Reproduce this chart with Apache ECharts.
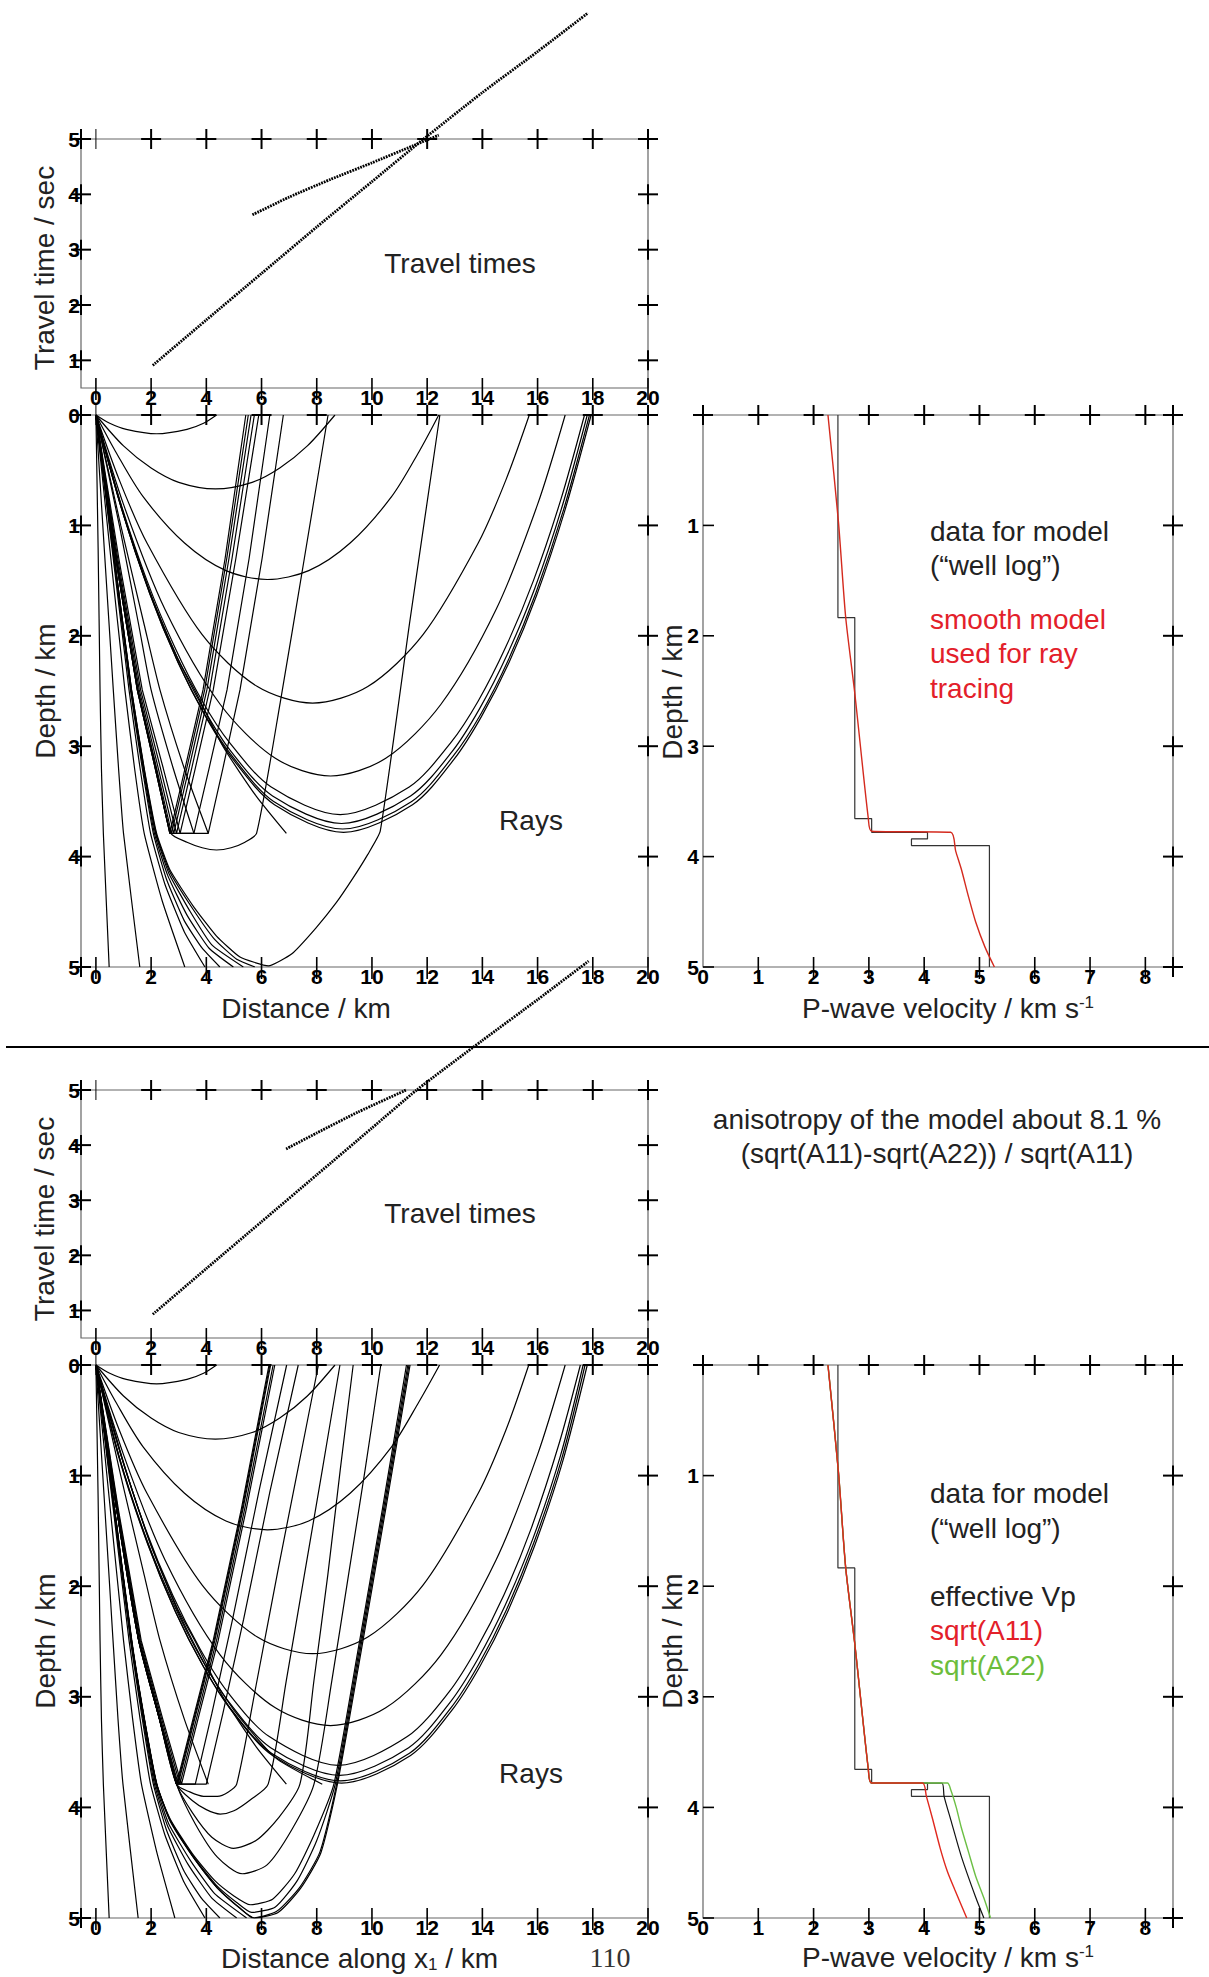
<!DOCTYPE html>
<html><head><meta charset="utf-8">
<script src="https://cdn.jsdelivr.net/npm/echarts@6/dist/echarts.min.js"></script>
<style>html,body{margin:0;padding:0;background:#fff}#c{width:1209px;height:1977px}</style>
</head><body><div id="c"></div>
<script>
// ---------- tick labels ----------
const distTicks = [0,2,4,6,8,10,12,14,16,18,20];
const timeTicks = [1,2,3,4,5];
const depthTicks = [0,1,2,3,4,5];
const velDepthTicks = [1,2,3,4,5];
const velTicks = [0,1,2,3,4,5,6,7,8];
const distRange = [-0.54, 20];
const timeRange = [0.5, 5];
const depthRange = [0, 5];
const velRange = [0, 8.5];

// ---------- travel times (distance km, time s) ----------
const ttDirect1 = [[2.06,0.91],[4,1.73],[6,2.57],[8,3.41],[10,4.23],[11.8,4.97],[14,5.84],[16,6.58],[17.83,7.28]];
const ttRefl1   = [[5.67,3.63],[7,3.95],[8.5,4.27],[10,4.57],[11.5,4.88],[12.42,5.07]];
const ttDirect2 = [[2.06,0.93],[4,1.76],[6,2.61],[8,3.46],[10,4.31],[11.62,5.0],[14,5.9],[16,6.64],[17.85,7.34]];
const ttRefl2   = [[6.89,3.93],[8,4.22],[9.5,4.6],[11.24,5.0]];

// ---------- velocity profiles (velocity km/s, depth km) ----------
const wellLog = [[2.44,0],[2.44,1.835],[2.745,1.835],[2.745,3.656],[3.05,3.656],[3.05,3.78],[4.06,3.78],[4.06,3.84],[3.77,3.84],[3.77,3.9],[5.18,3.9],[5.18,5.0]];
const smoothModel1 = [[2.26,0],[2.45,0.97],[2.58,1.83],[2.745,2.52],[2.99,3.656],[3.05,3.77],[4.48,3.78],[4.57,3.95],[4.67,4.11],[4.8,4.36],[4.93,4.59],[5.1,4.82],[5.27,5.0]];
const sqrtA11 = [[2.26,0],[2.45,0.97],[2.58,1.83],[2.745,2.52],[2.99,3.656],[3.05,3.78],[3.97,3.78],[4.04,3.9],[4.15,4.1],[4.29,4.37],[4.42,4.58],[4.55,4.74],[4.77,5.0]];
const effectiveVp = [[2.26,0],[2.45,0.97],[2.58,1.83],[2.745,2.52],[2.99,3.656],[3.05,3.78],[4.32,3.78],[4.36,3.9],[4.48,4.11],[4.67,4.44],[4.93,4.81],[5.08,5.0]];
const sqrtA22 = [[2.26,0],[2.45,0.97],[2.58,1.83],[2.745,2.52],[2.99,3.656],[3.05,3.78],[4.42,3.78],[4.48,3.84],[4.58,4.0],[4.67,4.18],[4.8,4.4],[4.93,4.62],[5.08,4.82],[5.2,5.0]];

// ---------- rays, isotropic model (distance km, depth km) ----------
const raysA_turning = [
  [[0,0],[0.5,0.075],[1.1,0.13],[2.2,0.17],[3.3,0.13],[3.9,0.075],[4.37,0]],
  [[0,0],[1,0.28],[2,0.48],[3,0.61],[4.33,0.67],[5.66,0.61],[6.66,0.48],[7.66,0.28],[8.66,0]],
  [[0,0],[0.71,0.33],[1.71,0.74],[3.21,1.16],[4.71,1.41],[6.21,1.49],[7.71,1.41],[9.21,1.16],[10.71,0.74],[11.71,0.33],[12.42,0]],
  [[0,0],[0.85,0.59],[1.85,1.16],[3.85,1.99],[5.85,2.46],[7.85,2.61],[9.85,2.46],[11.85,1.99],[13.85,1.16],[14.85,0.59],[15.7,0]],
  [[0,0],[1,0.81],[2.5,1.76],[4.5,2.62],[6.5,3.11],[8.5,3.27],[10.5,3.11],[12.5,2.62],[14.5,1.76],[16,0.81],[17,0]],
  [[0,0],[0.85,0.76],[1.85,1.5],[2.85,2.1],[3.85,2.59],[4.85,2.97],[6.35,3.37],[8.85,3.62],[11.35,3.37],[12.85,2.97],[13.85,2.59],[14.85,2.1],[15.85,1.5],[16.85,0.76],[17.7,0]],
  [[0,0],[0.9,0.82],[1.9,1.57],[2.9,2.17],[3.9,2.66],[4.9,3.05],[6.4,3.45],[8.9,3.7],[11.4,3.45],[12.9,3.05],[13.9,2.66],[14.9,2.17],[15.9,1.57],[16.9,0.82],[17.8,0]],
  [[0,0],[0.94,0.86],[1.94,1.61],[2.94,2.22],[3.94,2.71],[4.94,3.09],[6.44,3.5],[8.94,3.75],[11.44,3.5],[12.94,3.09],[13.94,2.71],[14.94,2.22],[15.94,1.61],[16.94,0.86],[17.88,0]],
  [[0,0],[0.97,0.88],[1.97,1.63],[2.97,2.24],[3.97,2.73],[4.97,3.12],[6.47,3.53],[8.97,3.78],[11.47,3.53],[12.97,3.12],[13.97,2.73],[14.97,2.24],[15.97,1.63],[16.97,0.88],[17.94,0]]
];
const raysA_through = [
  [[0,0],[0.08,1.2],[0.15,2.49],[0.2,3.2],[0.27,3.79],[0.48,5]],
  [[0,0],[0.3,1.2],[0.63,2.49],[0.82,3.2],[1.0,3.79],[1.59,5]],
  [[0,0],[0.5,1.2],[1.05,2.49],[1.4,3.2],[1.75,3.79],[2.4,4.4],[3.22,5]],
  [[0,0],[0.58,1.2],[1.2,2.49],[1.6,3.2],[1.98,3.79],[2.5,4.25],[3.2,4.68],[3.95,5]],
  [[0,0],[0.6,1.2],[1.25,2.49],[1.68,3.2],[2.08,3.79],[2.55,4.2],[3.2,4.58],[3.85,4.83],[4.49,5]],
  [[0,0],[0.61,1.2],[1.27,2.49],[1.71,3.2],[2.12,3.79],[2.6,4.17],[3.3,4.53],[4.1,4.83],[4.98,5]],
  [[0,0],[0.62,1.2],[1.28,2.49],[1.73,3.2],[2.16,3.79],[2.64,4.15],[3.42,4.5],[4.2,4.8],[5.34,5]],
  [[0,0],[0.62,1.2],[1.29,2.49],[1.74,3.2],[2.18,3.79],[2.66,4.13],[3.5,4.47],[4.3,4.75],[5.1,4.93],[5.76,5]],
  [[0,0],[0.62,1.2],[1.29,2.49],[1.75,3.2],[2.2,3.79],[2.68,4.12],[3.53,4.45],[4.37,4.72],[5.22,4.91],[6.25,4.99],[7.1,4.88],[7.96,4.65],[8.7,4.42],[9.3,4.2],[9.85,3.98],[10.3,3.77],[11.36,1.89],[12.46,0]]
];
const raysA_reflected = [
  [[0,0],[0.72,1.3],[1.5,2.49],[2.15,3.2],[2.68,3.79],[3.23,3.2],[3.88,2.49],[4.68,1.3],[5.43,0]],
  [[0,0],[0.74,1.3],[1.53,2.49],[2.2,3.2],[2.74,3.79],[3.29,3.2],[3.94,2.49],[4.74,1.3],[5.52,0]],
  [[0,0],[0.76,1.3],[1.57,2.49],[2.26,3.2],[2.82,3.79],[3.37,3.2],[4.02,2.49],[4.82,1.3],[5.62,0]],
  [[0,0],[0.79,1.3],[1.62,2.49],[2.34,3.2],[2.92,3.79],[3.47,3.2],[4.12,2.49],[4.93,1.3],[5.74,0]],
  [[0,0],[0.83,1.3],[1.68,2.49],[2.44,3.2],[3.05,3.79],[3.6,3.2],[4.25,2.49],[5.07,1.3],[5.9,0]],
  [[0,0],[0.72,1.3],[1.5,2.49],[2.15,3.2],[2.68,3.79],[3.55,3.79],[4.1,3.2],[4.75,2.49],[5.55,1.3],[6.3,0]],
  [[0,0],[0.72,1.3],[1.5,2.49],[2.15,3.2],[2.68,3.79],[4.07,3.79],[4.6,3.2],[5.22,2.49],[6.02,1.3],[6.79,0]]
];
const raysA_arcs = [
  [[0,0],[0.73,1.3],[1.52,2.49],[2.18,3.2],[2.72,3.79],[3.3,3.87],[3.85,3.92],[4.37,3.94],[4.9,3.92],[5.4,3.87],[5.82,3.79],[6.68,2.6],[7.55,1.3],[8.41,0]]
];
const raysA_stopped = [
  [[0,0],[0.9,1.0],[1.75,1.9],[2.32,2.49],[3.2,3.2],[4.07,3.79]],
  [[0,0],[0.85,1.0],[1.55,1.9],[2.0,2.49],[2.8,3.2],[3.55,3.79]],
  [[0,0],[0.95,0.85],[1.95,1.6],[2.95,2.2],[3.6,2.5],[4.6,3.0],[5.8,3.45],[6.9,3.79]]
];

// ---------- rays, anisotropic model ----------
const raysB_turning = [
  [[0,0],[0.5,0.075],[1.1,0.13],[2.2,0.17],[3.3,0.13],[3.9,0.075],[4.37,0]],
  [[0,0],[1,0.28],[2,0.48],[3,0.61],[4.33,0.67],[5.66,0.61],[6.66,0.48],[7.66,0.28],[8.66,0]],
  [[0,0],[0.71,0.33],[1.71,0.74],[3.21,1.16],[4.71,1.41],[6.21,1.49],[7.71,1.41],[9.21,1.16],[10.71,0.74],[11.71,0.33],[12.45,0]],
  [[0,0],[0.85,0.59],[1.85,1.16],[3.85,1.99],[5.85,2.46],[7.85,2.61],[9.85,2.46],[11.85,1.99],[13.85,1.16],[14.85,0.59],[15.68,0]],
  [[0,0],[1,0.81],[2.5,1.76],[4.5,2.62],[6.5,3.1],[8.5,3.26],[10.5,3.1],[12.5,2.62],[14.5,1.76],[16,0.81],[17,0]],
  [[0,0],[0.78,0.71],[1.78,1.47],[2.78,2.08],[3.78,2.57],[4.78,2.96],[6.28,3.36],[8.78,3.62],[11.28,3.36],[12.78,2.96],[13.78,2.57],[14.78,2.08],[15.78,1.47],[16.78,0.71],[17.55,0]],
  [[0,0],[0.83,0.82],[1.83,1.57],[2.83,2.17],[3.83,2.66],[4.83,3.05],[6.33,3.46],[8.83,3.71],[11.33,3.46],[12.83,3.05],[13.83,2.66],[14.83,2.17],[15.83,1.57],[16.83,0.82],[17.65,0]],
  [[0,0],[0.86,0.86],[1.86,1.61],[2.86,2.22],[3.86,2.71],[4.86,3.1],[6.36,3.51],[8.86,3.76],[11.36,3.51],[12.86,3.1],[13.86,2.71],[14.86,2.22],[15.86,1.61],[16.86,0.86],[17.72,0]],
  [[0,0],[0.9,0.88],[1.9,1.63],[2.9,2.24],[3.9,2.73],[4.9,3.12],[6.4,3.53],[8.9,3.78],[11.4,3.53],[12.9,3.12],[13.9,2.73],[14.9,2.24],[15.9,1.63],[16.9,0.88],[17.8,0]]
];
const raysB_through = [
  [[0,0],[0.08,1.2],[0.15,2.49],[0.2,3.2],[0.27,3.79],[0.48,5]],
  [[0,0],[0.3,1.2],[0.62,2.49],[0.8,3.2],[0.98,3.79],[1.53,5]],
  [[0,0],[0.48,1.2],[1.0,2.49],[1.33,3.2],[1.65,3.79],[2.2,4.4],[2.86,5]],
  [[0,0],[0.58,1.2],[1.2,2.49],[1.6,3.2],[1.98,3.79],[2.5,4.25],[3.2,4.68],[3.95,5]],
  [[0,0],[0.6,1.2],[1.25,2.49],[1.68,3.2],[2.08,3.79],[2.55,4.2],[3.2,4.58],[3.85,4.83],[4.49,5]],
  [[0,0],[0.61,1.2],[1.27,2.49],[1.71,3.2],[2.12,3.79],[2.6,4.17],[3.35,4.52],[4.2,4.82],[5.1,5]],
  [[0,0],[0.62,1.2],[1.28,2.49],[1.73,3.2],[2.16,3.79],[2.64,4.15],[3.45,4.49],[4.3,4.78],[5.46,5]]
];
const raysB_deep = [
  [[0,0],[0.62,1.2],[1.29,2.49],[1.75,3.2],[2.2,3.79],[2.68,4.1],[3.5,4.42],[4.3,4.66],[5.0,4.8],[5.6,4.88],[6.4,4.83],[7.2,4.6],[7.9,4.25],[8.62,3.79],[9.48,2.6],[10.38,1.3],[11.25,0]],
  [[0,0],[0.62,1.2],[1.29,2.49],[1.75,3.2],[2.2,3.79],[2.68,4.11],[3.52,4.44],[4.35,4.7],[5.1,4.86],[5.64,4.95],[6.5,4.9],[7.3,4.66],[8.0,4.3],[8.67,3.79],[9.52,2.6],[10.42,1.3],[11.3,0]],
  [[0,0],[0.62,1.2],[1.29,2.49],[1.75,3.2],[2.2,3.79],[2.68,4.12],[3.53,4.45],[4.37,4.72],[5.22,4.91],[5.7,5.0],[6.55,4.94],[7.39,4.72],[8.12,4.4],[8.72,3.79],[9.56,2.6],[10.46,1.3],[11.34,0]],
  [[0,0],[0.63,1.2],[1.3,2.49],[1.76,3.2],[2.21,3.79],[2.7,4.12],[3.55,4.46],[4.4,4.73],[5.25,4.92],[5.75,5.0],[6.6,4.95],[7.42,4.73],[8.15,4.41],[8.75,3.79],[9.6,2.6],[10.5,1.3],[11.38,0]]
];
const raysB_reflected = [
  [[0,0],[0.75,1.3],[1.55,2.49],[2.3,3.2],[2.92,3.79],[3.52,3.2],[4.25,2.49],[5.27,1.3],[6.27,0]],
  [[0,0],[0.76,1.3],[1.56,2.49],[2.32,3.2],[2.95,3.79],[3.55,3.2],[4.28,2.49],[5.3,1.3],[6.3,0]],
  [[0,0],[0.77,1.3],[1.58,2.49],[2.34,3.2],[2.98,3.79],[3.58,3.2],[4.31,2.49],[5.33,1.3],[6.33,0]],
  [[0,0],[0.79,1.3],[1.61,2.49],[2.38,3.2],[3.04,3.79],[3.64,3.2],[4.37,2.49],[5.39,1.3],[6.42,0]],
  [[0,0],[0.81,1.3],[1.64,2.49],[2.42,3.2],[3.1,3.79],[3.7,3.2],[4.43,2.49],[5.45,1.3],[6.48,0]],
  [[0,0],[0.75,1.3],[1.55,2.49],[2.3,3.2],[2.92,3.79],[3.6,3.79],[4.2,3.15],[4.95,2.3],[5.9,1.15],[6.91,0]],
  [[0,0],[0.75,1.3],[1.55,2.49],[2.3,3.2],[2.92,3.79],[4.0,3.79],[4.6,3.15],[5.35,2.3],[6.3,1.15],[7.33,0]]
];
const raysB_arcs = [
  [[0,0],[0.75,1.3],[1.55,2.49],[2.3,3.2],[2.92,3.79],[3.4,3.86],[3.9,3.9],[4.4,3.9],[4.8,3.86],[5.1,3.79],[5.8,2.9],[6.6,1.85],[7.35,0.9],[8.06,0]],
  [[0,0],[0.75,1.3],[1.55,2.49],[2.3,3.2],[2.92,3.79],[3.5,3.94],[4.0,4.02],[4.5,4.06],[5.0,4.03],[5.6,3.93],[6.24,3.79],[6.9,2.85],[7.55,1.9],[8.2,0.95],[8.84,0]],
  [[0,0],[0.75,1.3],[1.55,2.49],[2.3,3.2],[2.92,3.79],[3.5,4.05],[4.2,4.27],[4.98,4.37],[5.8,4.3],[6.6,4.1],[7.39,3.79],[7.9,2.85],[8.4,1.9],[8.85,0.95],[9.32,0]],
  [[0,0],[0.75,1.3],[1.55,2.49],[2.3,3.2],[2.92,3.79],[3.6,4.15],[4.4,4.45],[5.3,4.6],[6.2,4.52],[7.1,4.2],[7.9,3.79],[8.55,2.85],[9.15,1.9],[9.75,0.95],[10.32,0]]
];
const raysB_stopped = [
  [[0,0],[0.9,1.0],[1.75,1.9],[2.32,2.49],[3.2,3.2],[4.07,3.79]],
  [[0,0],[0.95,0.85],[1.95,1.6],[2.95,2.2],[3.6,2.5],[4.6,3.0],[5.8,3.45],[6.9,3.79]],
  [[0,0],[1.0,0.88],[2.0,1.63],[3.0,2.24],[4.0,2.73],[5.0,3.12],[6.5,3.55],[8.2,3.79]]
];

// ---------- layout ----------
const FONT = '"Liberation Sans", Arial, Helvetica, sans-serif';
const NUMFONT = '"Liberation Sans Narrow", "Arial Narrow", "Liberation Sans", Arial, sans-serif';
const INK = '#222';
const RED_TXT = '#e3202a';
const GREEN_TXT = '#6cbd3c';
const grids = [
  {left:81, top:139, width:567, height:249},
  {left:81, top:415, width:567, height:552},
  {left:703, top:415, width:470, height:552},
  {left:81, top:1090, width:567, height:248},
  {left:81, top:1365, width:567, height:553},
  {left:703, top:1365, width:470, height:553}
];
const kinds = ['tt','ray','vel','tt','ray','vel'];

const labelStyle = {fontSize:21, fontWeight:'bold', color:'#000', fontFamily:NUMFONT};

const xAxes = kinds.map((k,i)=>({
  gridIndex:i, type:'value',
  min: k==='vel' ? velRange[0] : distRange[0],
  max: k==='vel' ? velRange[1] : distRange[1],
  axisLine:{show:false}, axisTick:{show:false}, splitLine:{show:false},
  axisLabel:Object.assign({customValues: k==='vel' ? velTicks : distTicks, margin: -1}, labelStyle)
}));
const yAxes = kinds.map((k,i)=>({
  gridIndex:i, type:'value',
  min: k==='tt' ? timeRange[0] : depthRange[0],
  max: k==='tt' ? timeRange[1] : depthRange[1],
  inverse: k!=='tt',
  axisLine:{show:false}, axisTick:{show:false}, splitLine:{show:false},
  axisLabel:Object.assign({customValues: k==='tt' ? timeTicks : (k==='ray' ? depthTicks : velDepthTicks),
    margin: k==='vel' ? 4 : 1, padding:[0,0,8,0]}, labelStyle)
}));

// tick mark renderers
function tickRender(mode){
  return function(params, api){
    const p = api.coord([api.value(0), api.value(1)]);
    const ch = [];
    const st = {stroke:'#000', lineWidth:2};
    if (mode==='cross'){
      ch.push({type:'line', shape:{x1:p[0]-10,y1:p[1],x2:p[0]+10,y2:p[1]}, style:st});
      ch.push({type:'line', shape:{x1:p[0],y1:p[1]-10,x2:p[0],y2:p[1]+10}, style:st});
    } else if (mode==='vert'){
      ch.push({type:'line', shape:{x1:p[0],y1:p[1]-10,x2:p[0],y2:p[1]+12}, style:{stroke:'#000', lineWidth:1.6}});
    } else if (mode==='vthin'){
      ch.push({type:'line', shape:{x1:p[0],y1:p[1]-10,x2:p[0],y2:p[1]+10}, style:{stroke:'#000', lineWidth:1}});
    } else if (mode==='hin'){
      ch.push({type:'line', shape:{x1:p[0],y1:p[1],x2:p[0]+11,y2:p[1]}, style:{stroke:'#000', lineWidth:1.6}});
    }
    return {type:'group', children:ch};
  };
}
function tickSeries(gi, mode, data){
  return {type:'custom', xAxisIndex:gi, yAxisIndex:gi, renderItem:tickRender(mode), data:data, clip:false, silent:true, z:5, animation:false};
}

const series = [];
kinds.forEach((k,i)=>{
  if (k==='tt'){
    series.push(tickSeries(i,'cross', distTicks.filter(v=>v>0).map(v=>[v,timeRange[1]])));
    series.push(tickSeries(i,'vthin', [[0,timeRange[1]]]));
    series.push(tickSeries(i,'cross', timeTicks.filter(v=>v<timeRange[1]).map(v=>[distRange[1],v])));
    series.push(tickSeries(i,'cross', timeTicks.map(v=>[distRange[0],v])));
    series.push(tickSeries(i,'vert', distTicks.map(v=>[v,timeRange[0]])));
  } else if (k==='ray'){
    series.push(tickSeries(i,'cross', distTicks.filter(v=>v>0).map(v=>[v,depthRange[0]])));
    series.push(tickSeries(i,'vthin', [[0,depthRange[0]]]));
    series.push(tickSeries(i,'cross', depthTicks.map(v=>[distRange[0],v])));
    series.push(tickSeries(i,'cross', depthTicks.filter(v=>v>0&&v<5).map(v=>[distRange[1],v])));
    series.push(tickSeries(i,'vert', distTicks.map(v=>[v,depthRange[1]])));
  } else {
    series.push(tickSeries(i,'cross', velTicks.concat([velRange[1]]).map(v=>[v,depthRange[0]])));
    series.push(tickSeries(i,'cross', velDepthTicks.map(v=>[velRange[1],v])));
    series.push(tickSeries(i,'hin', velDepthTicks.map(v=>[velRange[0],v])));
    series.push(tickSeries(i,'vert', velTicks.filter(v=>v>0).map(v=>[v,depthRange[1]])));
  }
});

function lineS(gi, data, color, width, opts){
  return Object.assign({type:'line', xAxisIndex:gi, yAxisIndex:gi, data:data, symbol:'none', showSymbol:false,
    lineStyle:{color:color, width:width}, silent:true, animation:false, z:2, clip:true}, opts||{});
}
function rays(gi, list, smooth){
  list.forEach(r=>series.push(lineS(gi, r, '#000', 1.2, {smooth:smooth})));
}
rays(1, raysA_turning, 0.3);
rays(1, raysA_through, 0.15);
rays(1, raysA_reflected, false);
rays(1, raysA_arcs, 0.2);
rays(1, raysA_stopped, 0.2);
rays(4, raysB_turning, 0.3);
rays(4, raysB_through, 0.15);
rays(4, raysB_deep, 0.2);
rays(4, raysB_reflected, false);
rays(4, raysB_arcs, 0.25);
rays(4, raysB_stopped, 0.2);

const ttStyle = {clip:false, smooth:0.2, lineStyle:{color:'#000', width:2.8, type:[1.8,1.0]}};
series.push(lineS(0, ttDirect1, '#000', 2.8, ttStyle));
series.push(lineS(0, ttRefl1, '#000', 2.8, ttStyle));
series.push(lineS(3, ttDirect2, '#000', 2.8, ttStyle));
series.push(lineS(3, ttRefl2, '#000', 2.8, ttStyle));

series.push(lineS(2, wellLog, '#333', 1.2, {clip:false}));
series.push(lineS(2, smoothModel1, '#d42a1e', 1.4, {clip:false, smooth:0.25}));
series.push(lineS(5, wellLog, '#333', 1.2, {clip:false}));
series.push(lineS(5, effectiveVp, '#111', 1.2, {clip:false, smooth:0.25}));
series.push(lineS(5, sqrtA22, '#6cbf45', 1.4, {clip:false, smooth:0.25}));
series.push(lineS(5, sqrtA11, '#e0281e', 1.4, {clip:false, smooth:0.25}));

// ---------- text ----------
function txt(text, x, y, o){
  o = o || {};
  return {type:'text', x:x, y:y, rotation:o.rot||0, z:10, silent:true,
    style:{text:text, font:(o.font||'28px '+FONT), fill:o.fill||INK,
      textAlign:o.align||'center', textVerticalAlign:'middle', rich:o.rich}};
}
const R90 = Math.PI/2;
const supRich = {m:{fontSize:28, fontFamily:FONT, fill:INK}, s:{fontSize:17, fontFamily:FONT, fill:INK, verticalAlign:'top', padding:[0,0,0,0]}};
const subRich = {m:{fontSize:28, fontFamily:FONT, fill:INK}, s:{fontSize:17, fontFamily:FONT, fill:INK, verticalAlign:'bottom', padding:[12,0,0,0]}};
const graphic = [
  {type:'line', shape:{x1:6,y1:1047,x2:1209,y2:1047}, style:{stroke:'#000', lineWidth:2}, silent:true},
  txt('Travel time / sec', 44, 268, {rot:R90}),
  txt('Travel times', 460, 263),
  txt('Depth / km', 45, 691, {rot:R90}),
  txt('Distance / km', 306, 1008),
  txt('Rays', 531, 820),
  txt('Depth / km', 672, 692, {rot:R90}),
  txt('{m|P-wave velocity / km s}{s|-1}', 802, 1008, {align:'left', rich:supRich}),
  txt('data for model', 930, 531, {align:'left'}),
  txt('(\u201cwell log\u201d)', 930, 565, {align:'left'}),
  txt('smooth model', 930, 619, {align:'left', fill:RED_TXT}),
  txt('used for ray', 930, 653, {align:'left', fill:RED_TXT}),
  txt('tracing', 930, 688, {align:'left', fill:RED_TXT}),
  txt('anisotropy of the model about 8.1 %', 937, 1119),
  txt('(sqrt(A11)-sqrt(A22)) / sqrt(A11)', 937, 1153),
  txt('Travel time / sec', 44, 1219, {rot:R90}),
  txt('Travel times', 460, 1213),
  txt('Depth / km', 45, 1641, {rot:R90}),
  txt('{m|Distance along x}{s|1}{m| / km}', 221, 1958, {align:'left', rich:subRich}),
  txt('Rays', 531, 1773),
  txt('110', 610, 1957, {font:'28px "Liberation Serif", "Times New Roman", serif', fill:'#333'}),
  txt('Depth / km', 672, 1641, {rot:R90}),
  txt('{m|P-wave velocity / km s}{s|-1}', 802, 1957, {align:'left', rich:supRich}),
  txt('data for model', 930, 1493, {align:'left'}),
  txt('(\u201cwell log\u201d)', 930, 1528, {align:'left'}),
  txt('effective Vp', 930, 1596, {align:'left'}),
  txt('sqrt(A11)', 930, 1630, {align:'left', fill:RED_TXT}),
  txt('sqrt(A22)', 930, 1665, {align:'left', fill:GREEN_TXT})
];

const chart = echarts.init(document.getElementById('c'), null, {renderer:'svg', width:1209, height:1977});
chart.setOption({
  animation:false,
  backgroundColor:'#fff',
  textStyle:{fontFamily:FONT},
  grid: grids.map(g=>Object.assign({show:true, borderColor:'#666', borderWidth:1.2, backgroundColor:'transparent', containLabel:false, outerBoundsMode:'none'}, g)),
  xAxis: xAxes,
  yAxis: yAxes,
  series: series,
  graphic: graphic
});
</script></body></html>
